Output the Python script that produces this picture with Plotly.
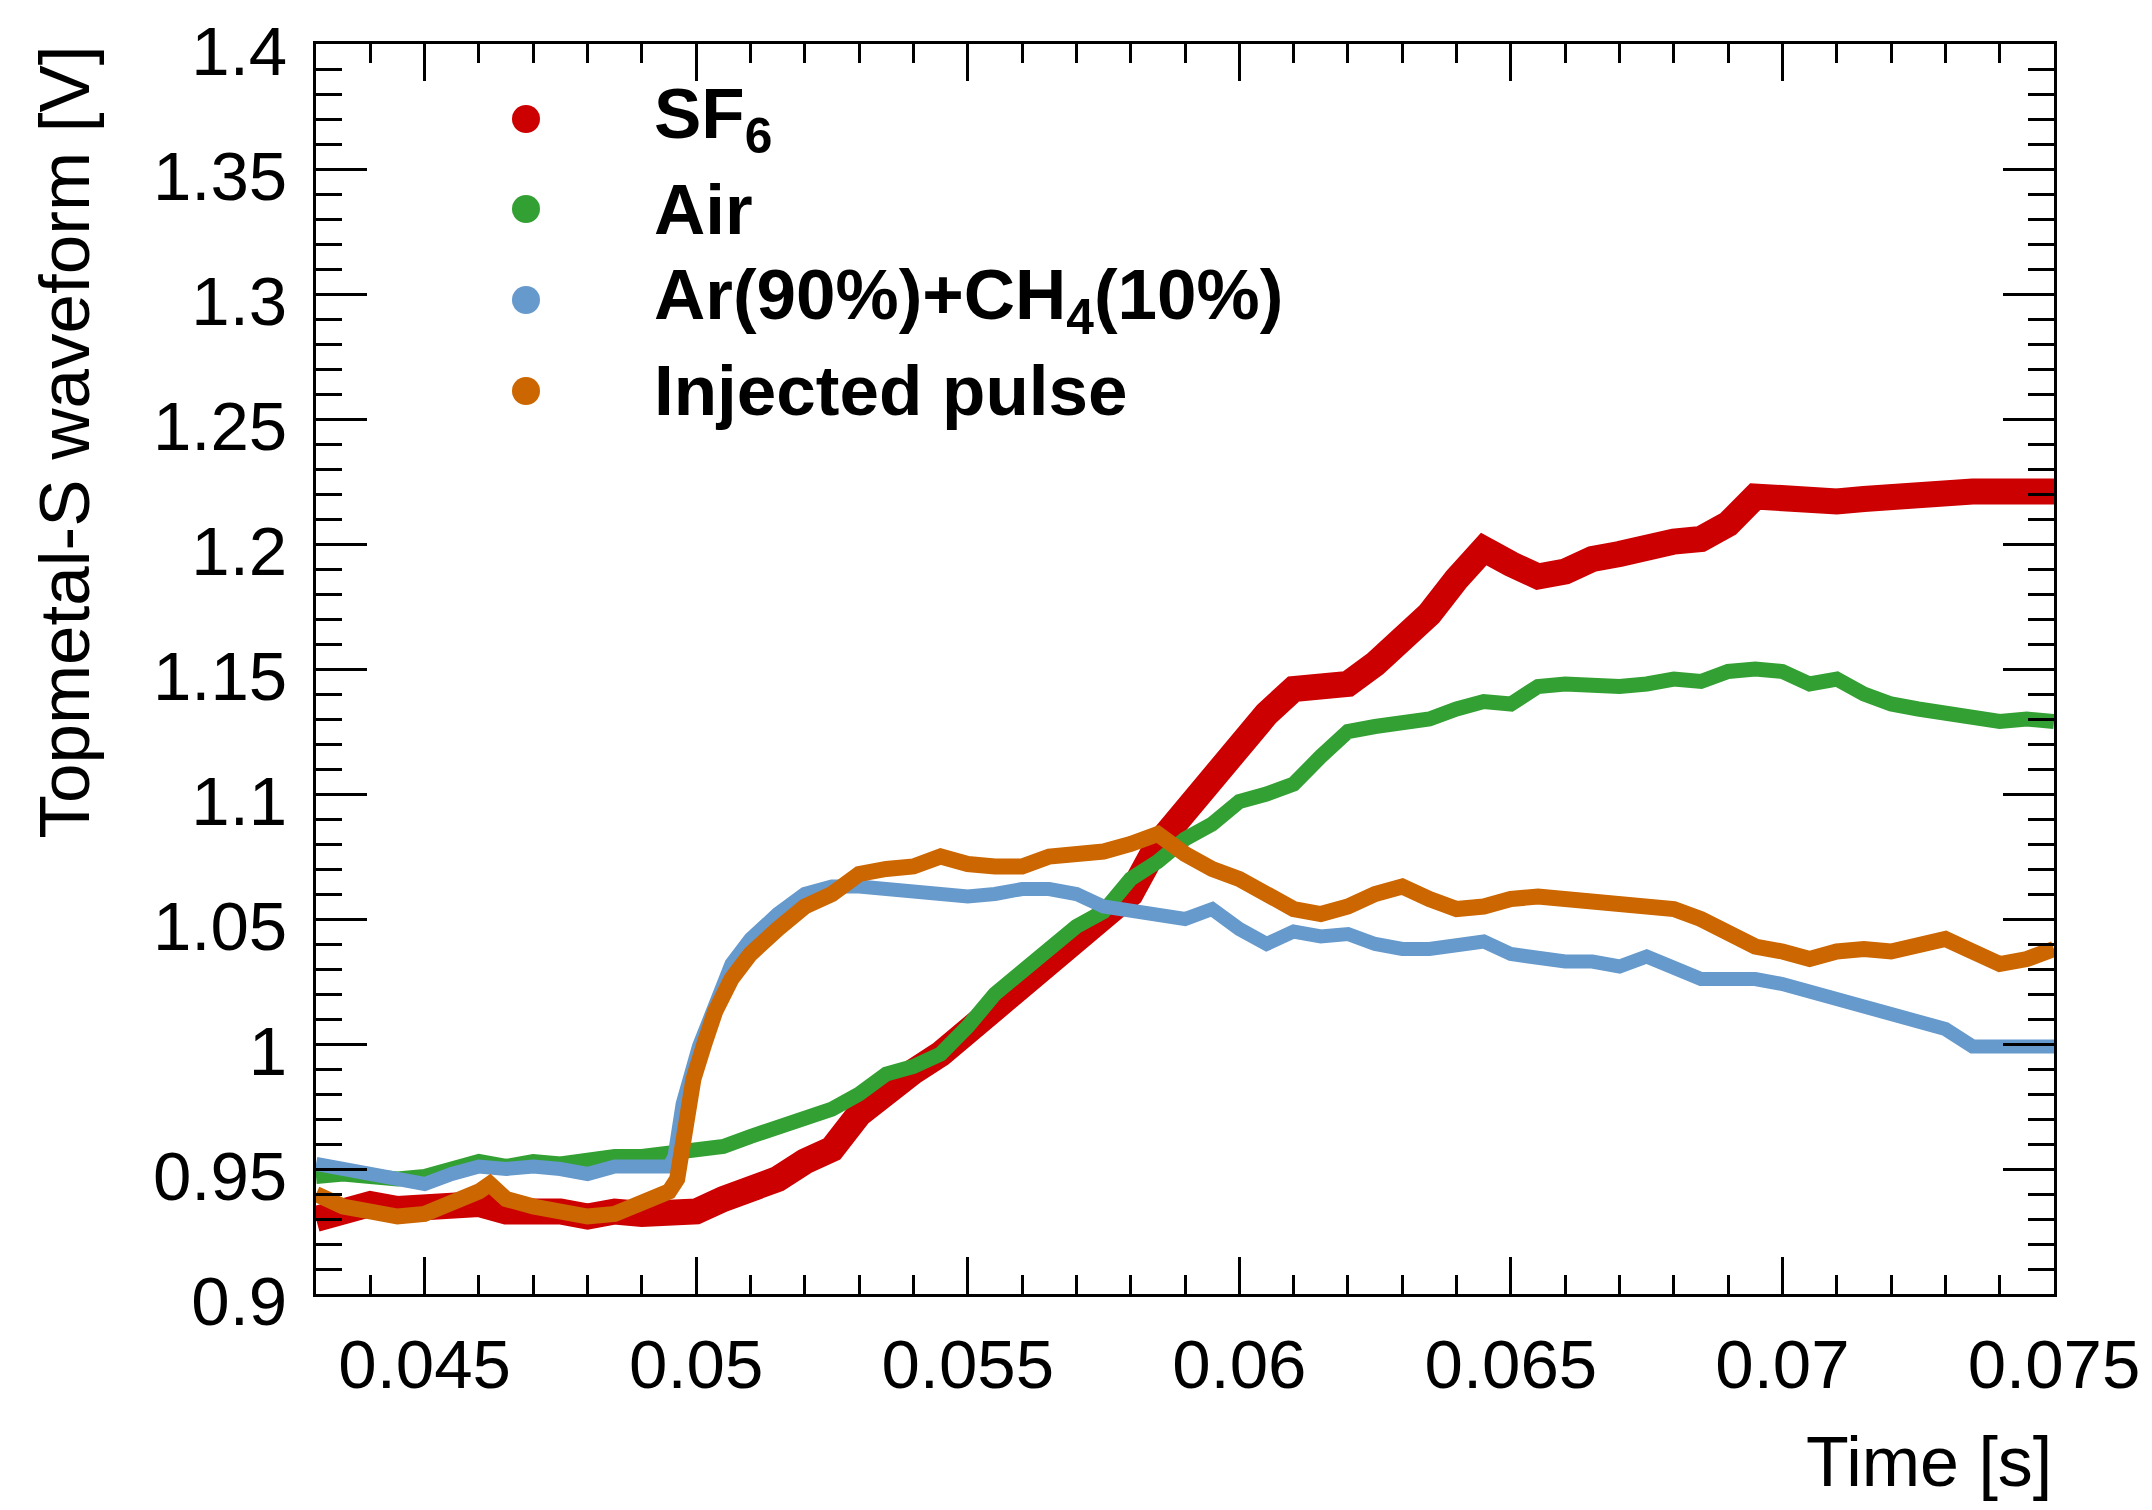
import plotly.graph_objects as go

# ---------------- data ----------------
time_sf6 = [0.0430, 0.0435, 0.0440, 0.0445, 0.0450, 0.0455, 0.0460, 0.0465, 0.0470, 0.0475,
            0.0480, 0.0485, 0.0490, 0.0495, 0.0500, 0.0505, 0.0510, 0.0515, 0.0520, 0.0525,
            0.0530, 0.0535, 0.0540, 0.0545, 0.0550, 0.0555, 0.0560, 0.0565, 0.0570, 0.0575,
            0.0580, 0.0585, 0.0590, 0.0595, 0.0600, 0.0605, 0.0610, 0.0615, 0.0620, 0.0625,
            0.0630, 0.0635, 0.0640, 0.0645, 0.0650, 0.0655, 0.0660, 0.0665, 0.0670, 0.0675,
            0.0680, 0.0685, 0.0690, 0.0695, 0.0700, 0.0705, 0.0710, 0.0715, 0.0720, 0.0725,
            0.0730, 0.0735, 0.0740, 0.0745, 0.0750]
v_sf6 = [0.930, 0.933, 0.936, 0.934, 0.935, 0.934, 0.936, 0.933, 0.934, 0.933,
         0.931, 0.933, 0.932, 0.933, 0.933, 0.938, 0.941, 0.946, 0.953, 0.958,
         0.972, 0.982, 0.989, 0.996, 1.005, 1.015, 1.024, 1.034, 1.042, 1.050,
         1.060, 1.080, 1.094, 1.107, 1.122, 1.132, 1.142, 1.142, 1.144, 1.152,
         1.162, 1.172, 1.186, 1.198, 1.192, 1.187, 1.189, 1.194, 1.196, 1.199,
         1.201, 1.202, 1.208, 1.219, 1.218, 1.216, 1.217, 1.218, 1.219, 1.221,
         1.222, 1.221, 1.221, 1.222, 1.221]

time_air = time_sf6
v_air = [0.947, 0.948, 0.947, 0.946, 0.947, 0.950, 0.953, 0.951, 0.953, 0.952,
         0.954, 0.955, 0.955, 0.956, 0.958, 0.959, 0.963, 0.967, 0.970, 0.974,
         0.980, 0.988, 0.991, 0.996, 1.007, 1.020, 1.029, 1.038, 1.047, 1.053,
         1.066, 1.073, 1.082, 1.088, 1.097, 1.100, 1.104, 1.115, 1.125, 1.127,
         1.129, 1.130, 1.134, 1.137, 1.136, 1.143, 1.144, 1.143, 1.143, 1.144,
         1.146, 1.145, 1.149, 1.150, 1.149, 1.144, 1.146, 1.140, 1.136, 1.134,
         1.132, 1.130, 1.129, 1.130, 1.129]

time_ar = [0.0430, 0.0435, 0.0440, 0.0445, 0.0450, 0.0455, 0.0460, 0.0465, 0.0470, 0.0475,
           0.0480, 0.0485, 0.0490, 0.0495, 0.04960, 0.04975, 0.05005, 0.05035, 0.05065, 0.0510,
           0.0515, 0.0520, 0.0525, 0.0530, 0.0535, 0.0540, 0.0545, 0.0550, 0.0555, 0.0560,
           0.0565, 0.0570, 0.0575, 0.0580, 0.0585, 0.0590, 0.0595, 0.0600, 0.0605, 0.0610,
           0.0615, 0.0620, 0.0625, 0.0630, 0.0635, 0.0640, 0.0645, 0.0650, 0.0655, 0.0660,
           0.0665, 0.0670, 0.0675, 0.0680, 0.0685, 0.0690, 0.0695, 0.0700, 0.0705, 0.0710,
           0.0715, 0.0720, 0.0725, 0.0730, 0.0735, 0.0740, 0.0745, 0.0750]
v_ar = [0.952, 0.950, 0.947, 0.945, 0.944, 0.948, 0.951, 0.950, 0.951, 0.950,
        0.948, 0.951, 0.951, 0.951, 0.955, 0.976, 0.999, 1.017, 1.032, 1.042,
        1.052, 1.060, 1.063, 1.063, 1.062, 1.061, 1.060, 1.059, 1.060, 1.062,
        1.062, 1.060, 1.055, 1.053, 1.052, 1.050, 1.054, 1.046, 1.040, 1.045,
        1.043, 1.044, 1.040, 1.038, 1.038, 1.039, 1.041, 1.036, 1.034, 1.033,
        1.033, 1.031, 1.035, 1.030, 1.026, 1.026, 1.026, 1.024, 1.021, 1.018,
        1.014, 1.011, 1.008, 1.006, 0.999, 0.999, 0.998, 0.999]

time_pulse = [0.0430, 0.0435, 0.0440, 0.0445, 0.0450, 0.0455, 0.0460, 0.0462, 0.0465, 0.0470,
              0.0475, 0.0480, 0.0485, 0.0490, 0.0495, 0.04965, 0.04980, 0.04995, 0.05015, 0.05035,
              0.05065, 0.0510, 0.0515, 0.0520, 0.0525, 0.0530, 0.0535, 0.0540, 0.0545, 0.0550,
              0.0555, 0.0560, 0.0565, 0.0570, 0.0575, 0.0580, 0.0585, 0.0590, 0.0595, 0.0600,
              0.0605, 0.0610, 0.0615, 0.0620, 0.0625, 0.0630, 0.0635, 0.0640, 0.0645, 0.0650,
              0.0655, 0.0660, 0.0665, 0.0670, 0.0675, 0.0680, 0.0685, 0.0690, 0.0695, 0.0700,
              0.0705, 0.0710, 0.0715, 0.0720, 0.0725, 0.0730, 0.0735, 0.0740, 0.0745, 0.0750]
v_pulse = [0.940, 0.935, 0.933, 0.931, 0.932, 0.936, 0.941, 0.944, 0.938, 0.935,
           0.933, 0.931, 0.932, 0.936, 0.941, 0.946, 0.966, 0.986, 1.000, 1.013,
           1.026, 1.036, 1.046, 1.055, 1.060, 1.068, 1.070, 1.071, 1.075, 1.072,
           1.071, 1.071, 1.075, 1.076, 1.077, 1.080, 1.084, 1.076, 1.070, 1.066,
           1.060, 1.054, 1.052, 1.055, 1.060, 1.063, 1.058, 1.054, 1.055, 1.058,
           1.059, 1.058, 1.058, 1.057, 1.056, 1.054, 1.050, 1.044, 1.039, 1.037,
           1.034, 1.037, 1.038, 1.037, 1.040, 1.042, 1.037, 1.032, 1.034, 1.038]

series_names = ["SF<sub>6</sub>", "Air", "Ar(90%)+CH<sub>4</sub>(10%)", "Injected pulse"]
series_colors = ["#cc0000", "#33a033", "#6699cc", "#cc6600"]
series_widths = [26, 15, 14, 16]

x_tick_values = [0.045, 0.05, 0.055, 0.06, 0.065, 0.07, 0.075]
x_tick_labels = ["0.045", "0.05", "0.055", "0.06", "0.065", "0.07", "0.075"]
y_tick_values = [0.9, 0.95, 1.0, 1.05, 1.1, 1.15, 1.2, 1.25, 1.3, 1.35, 1.4]
y_tick_labels = ["0.9", "0.95", "1", "1.05", "1.1", "1.15", "1.2", "1.25", "1.3", "1.35", "1.4"]

x_title = "Time [s]"
y_title = "Topmetal-S waveform [V]"

# ---------------- figure ----------------
# the page body adds an 8px offset, so the figure is 8px smaller and margins shifted
OFF = 8
W, H = 2152 - OFF, 1510 - OFF
ML, MR, MT, MB = 316 - OFF, 98, 44 - OFF, 216
PW, PH = W - ML - MR, H - MT - MB
FONT = "Liberation Sans, Arial, Helvetica, sans-serif"


def px_x(xfull):
    return (xfull - OFF - ML) / PW


def px_y(yfull):
    return (MT + PH - (yfull - OFF)) / PH


fig = go.Figure()
all_series = [(time_sf6, v_sf6), (time_air, v_air), (time_ar, v_ar), (time_pulse, v_pulse)]
for (tx, vy), name, col, lw in zip(all_series, series_names, series_colors, series_widths):
    fig.add_trace(go.Scatter(x=tx, y=vy, mode="lines", name=name,
                             line=dict(color=col, width=lw), showlegend=False))

axis_common = dict(showline=True, linecolor="black", linewidth=3, mirror="ticks",
                   ticks="inside", tickcolor="black", tickwidth=2.5,
                   showgrid=False, zeroline=False, ticklabeloverflow="allow",
                   automargin=False,
                   tickfont=dict(family=FONT, size=69, color="black"))

fig.update_xaxes(range=[0.043, 0.075], tickvals=x_tick_values, ticktext=x_tick_labels,
                 ticklen=37, ticklabelstandoff=8,
                 minor=dict(ticks="inside", ticklen=19, dtick=0.001, tick0=0.045,
                            tickwidth=2.5, tickcolor="black", showgrid=False),
                 **axis_common)
fig.update_yaxes(range=[0.9, 1.4], tickvals=y_tick_values, ticktext=y_tick_labels,
                 ticklen=51, ticklabelstandoff=12, ticklabelshift=7,
                 minor=dict(ticks="inside", ticklen=26, dtick=0.01, tick0=0.9,
                            tickwidth=2.5, tickcolor="black", showgrid=False),
                 **axis_common)

annotations = []
shapes = []
# axis titles
annotations.append(dict(text=x_title, xref="paper", yref="paper", x=1.0, y=px_y(1462),
                        xanchor="right", yanchor="middle", showarrow=False,
                        font=dict(family=FONT, size=70, color="black")))
annotations.append(dict(text=y_title, xref="paper", yref="paper", x=px_x(64), y=1.0,
                        xanchor="center", yanchor="top", textangle=-90, showarrow=False,
                        font=dict(family=FONT, size=71, color="black")))

# legend (markers + labels)
legend_rows_y = [119, 209, 300, 391]
marker_x = 526
text_x = 652
for name, col, yy in zip(series_names, series_colors, legend_rows_y):
    shapes.append(dict(type="circle", xref="paper", yref="paper", xsizemode="pixel",
                       ysizemode="pixel", xanchor=px_x(marker_x), yanchor=px_y(yy),
                       x0=-14, x1=14, y0=-14, y1=14, fillcolor=col, line=dict(width=0)))
    annotations.append(dict(text=name, xref="paper", yref="paper", x=px_x(text_x), y=px_y(yy),
                            xanchor="left", yanchor="middle", showarrow=False,
                            font=dict(family=FONT, size=71, color="black", weight="bold")))

fig.update_layout(width=W, height=H, margin=dict(l=ML, r=MR, t=MT, b=MB, pad=0),
                  paper_bgcolor="white", plot_bgcolor="white",
                  annotations=annotations, shapes=shapes, showlegend=False)

fig.write_html("out.html")
